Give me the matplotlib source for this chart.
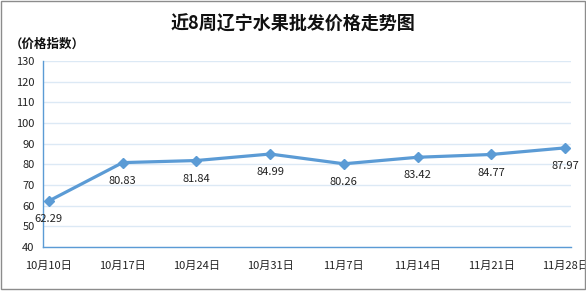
import matplotlib
matplotlib.use('Agg')
import matplotlib.pyplot as plt
from matplotlib.patches import Rectangle

plt.rcParams['font.family'] = ['Noto Sans CJK SC', 'DejaVu Sans']

weeks = ['10月10日', '10月17日', '10月24日', '10月31日',
         '11月7日', '11月14日', '11月21日', '11月28日']
index_values = [62.29, 80.83, 81.84, 84.99, 80.26, 83.42, 84.77, 87.97]
y_ticks = list(range(40, 131, 10))

LINE = '#5B9BD5'
GRID = '#DCE9F5'

fig = plt.figure(figsize=(5.86, 2.91), dpi=100, facecolor='white')
ax = fig.add_axes([43 / 586, 1 - 247 / 291, (571 - 43) / 586, (247 - 61) / 291])

x = list(range(len(weeks)))
ax.plot(x, index_values, color=LINE, linewidth=2.3, marker='D',
        markersize=5, markerfacecolor=LINE, markeredgecolor=LINE, zorder=3)

for xi, v in zip(x, index_values):
    ax.annotate(f'{v:.2f}', (xi, v), xytext=(0, -13), textcoords='offset points',
                ha='center', va='center', fontsize=8, color='#222222')

ax.set_xlim(-0.08, len(weeks) - 1 + 0.08)
ax.set_ylim(40, 130)
ax.set_yticks(y_ticks)
ax.set_xticks(x)
ax.set_xticklabels(weeks)
ax.grid(axis='y', color=GRID, linewidth=1)
ax.set_axisbelow(True)
ax.tick_params(length=0, labelsize=8, colors='#222222')
ax.tick_params(axis='x', pad=10)
ax.tick_params(axis='y', pad=6)
for side in ['top', 'right']:
    ax.spines[side].set_visible(False)
for side in ['left', 'bottom']:
    ax.spines[side].set_color(LINE)
    ax.spines[side].set_linewidth(1)

fig.text(0.5, 1 - 24 / 291, '近8周辽宁水果批发价格走势图', ha='center', va='center',
         fontsize=13, fontweight='bold', color='#111111')
fig.text(10 / 586, 1 - 44 / 291, '（价格指数）', ha='left', va='center',
         fontsize=9, fontweight='bold', color='#111111')

# outer frame
fig.patches.append(Rectangle((1 / 586, 2 / 291), 584 / 586, 288 / 291,
                             transform=fig.transFigure, fill=False,
                             edgecolor='#8C8C8C', linewidth=1))

fig.savefig('out.png', dpi=100, facecolor='white')
